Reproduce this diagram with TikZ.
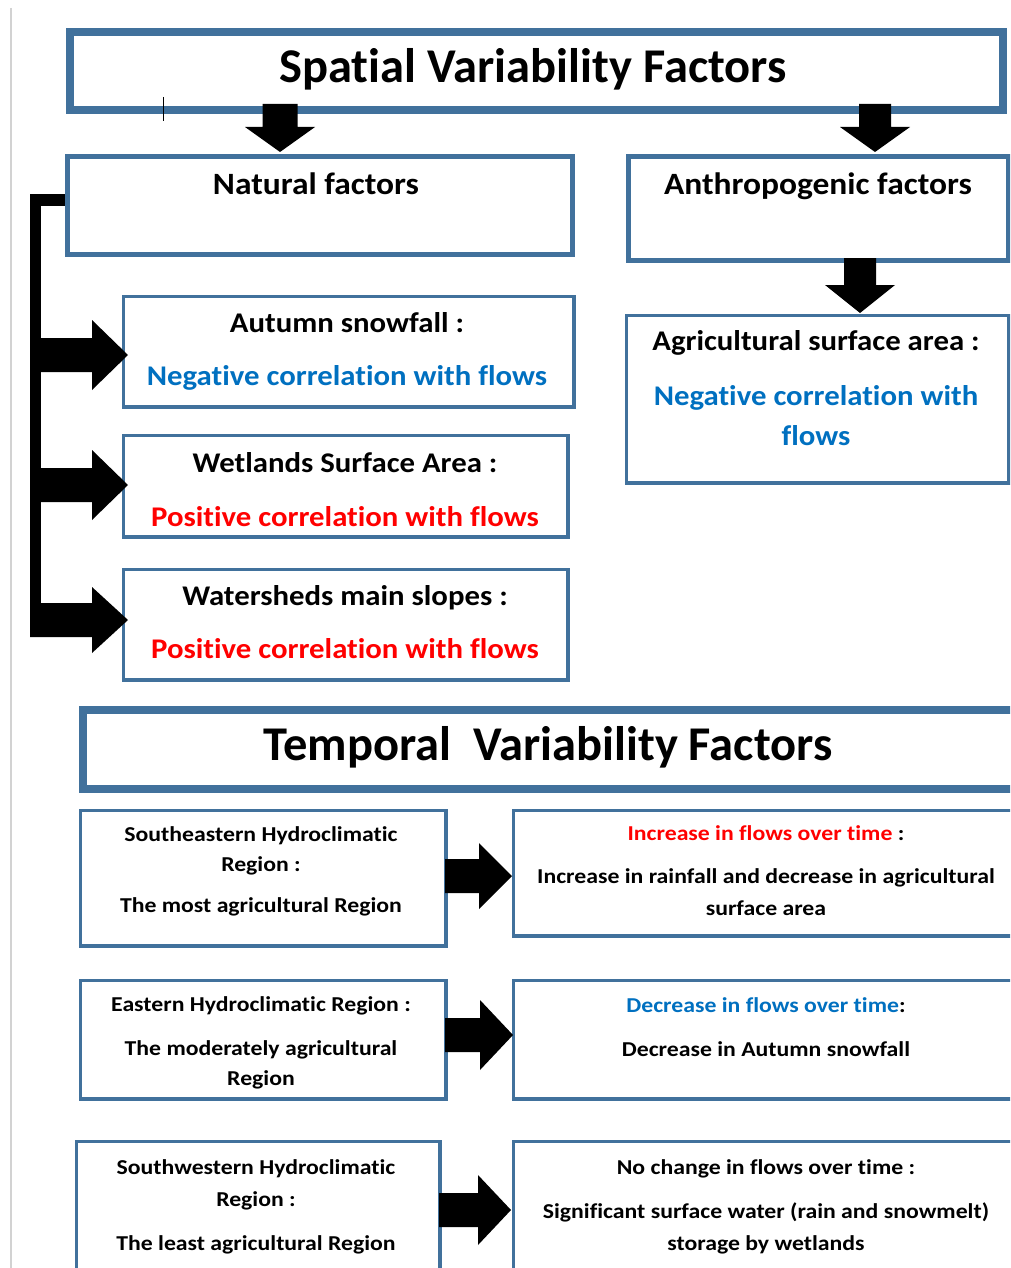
\documentclass[tikz,border=0pt]{standalone}
\usepackage{fontspec}
\setmainfont[Ligatures=NoCommon]{Carlito}
\newfontfamily\medfam[FakeStretch=1.08,Ligatures=NoCommon]{Carlito}
\newfontfamily\smlfam[FakeStretch=1.12,Ligatures=NoCommon]{Carlito}
\usetikzlibrary{calc}
\definecolor{bordc}{RGB}{65,113,156}
\definecolor{bluetx}{RGB}{0,112,192}
\definecolor{redtx}{RGB}{255,0,0}
\newcommand\blkright[5]{\fill[blk] ($(#1)+(0,-#3)$) -- ($(#2)+(-#5,-#3)$) -- ($(#2)+(-#5,-#4)$) -- (#2) -- ($(#2)+(-#5,#4)$) -- ($(#2)+(-#5,#3)$) -- ($(#1)+(0,#3)$) -- cycle;}
\newcommand\blkdown[5]{\fill[blk] ($(#1)+(-#3,0)$) -- ($(#2)+(-#3,-#5)$) -- ($(#2)+(-#4,-#5)$) -- (#2) -- ($(#2)+(#4,-#5)$) -- ($(#2)+(#3,-#5)$) -- ($(#1)+(#3,0)$) -- cycle;}
\begin{document}
\begin{tikzpicture}[x=1pt,y=-1pt,
  boxthick/.style={draw=bordc,line width=8pt,fill=white,inner sep=0pt,anchor=north west},
  boxmid/.style={draw=bordc,line width=5pt,fill=white,inner sep=0pt,anchor=north west},
  boxthin/.style={draw=bordc,line width=3.5pt,fill=white,inner sep=0pt,anchor=north west},
  txt/.style={inner sep=0pt,anchor=base},
  big/.style={txt,font=\bfseries\fontsize{48.5}{56}\selectfont},
  head/.style={txt,font=\medfam\bfseries\fontsize{31}{36}\selectfont},
  med/.style={txt,font=\medfam\bfseries\fontsize{28.5}{34}\selectfont},
  sml/.style={txt,font=\smlfam\bfseries\fontsize{21.2}{25}\selectfont},
  blk/.style={fill=black}]
\useasboundingbox (0,0) rectangle (1010,1268);
\clip (0,0) rectangle (1010,1268);
\fill[white] (0,0) rectangle (1010,1268);
% page edge
\draw[gray!35,line width=2pt] (11,8) -- (11,1268);
% Spatial title
\node[boxthick,minimum width=933pt,minimum height=78pt] (spat) at (66,28) {};
\node[big] (spatT) at (533,83) {Spatial Variability Factors};
\draw[black,line width=1pt] (163,97) -- (163,121);
% Natural / Anthropogenic
\node[boxmid,minimum width=505pt,minimum height=97pt] (nat) at (64.5,154.5) {};
\node[head] (natT) at (316,195) {Natural factors};
\node[boxmid,minimum width=380pt,minimum height=103pt] (ant) at (625.5,154.5) {};
\node[head] (antT) at (818,195) {Anthropogenic factors};
\coordinate (a1s) at (280,104);
\coordinate (a1t) at (280,152);
\blkdown{a1s}{a1t}{17.5}{35}{25}
\coordinate (a2s) at (875,104);
\coordinate (a2t) at (875,152);
\blkdown{a2s}{a2t}{16}{35}{25}
% natural sub-boxes
\node[boxthin,minimum width=450.5pt,minimum height=110.5pt] (aut) at (121.75,294.75) {};
\node[med] (autT1) at (347,332) {Autumn snowfall :};
\node[med,text=bluetx] (autT2) at (347,385) {Negative correlation with flows};
\node[boxthin,minimum width=444.5pt,minimum height=101.5pt] (wet) at (121.75,433.75) {};
\node[med] (wetT1) at (345,472) {Wetlands Surface Area :};
\node[med,text=redtx] (wetT2) at (345,526) {Positive correlation with flows};
\node[boxthin,minimum width=444.5pt,minimum height=110.5pt] (wat) at (121.75,567.75) {};
\node[med] (watT1) at (345,605) {Watersheds main slopes :};
\node[med,text=redtx] (watT2) at (345,658) {Positive correlation with flows};
% bracket
\coordinate (brT) at (35,200);
\coordinate (brB) at (35,635);
\draw[line width=11pt] (nat.west |- brT) -- (brT) -- (brB);
\coordinate (b1) at (35,355);
\coordinate (b1t) at (128,355);
\blkright{b1}{b1t}{17}{35}{36}
\coordinate (b2) at (35,485);
\coordinate (b2t) at (128,485);
\blkright{b2}{b2t}{17}{35}{36}
\coordinate (b3) at (30,620);
\coordinate (b3t) at (128,620);
\blkright{b3}{b3t}{17}{33}{36}
% anthropogenic sub-box
\node[boxthin,minimum width=382.5pt,minimum height=167.5pt] (agr) at (624.75,313.75) {};
\node[med] (agrT1) at (816,350) {Agricultural surface area :};
\node[med,text=bluetx] (agrT2) at (816,405) {Negative correlation with};
\node[med,text=bluetx] (agrT3) at (816,445) {flows};
\coordinate (a3s) at (860,258);
\coordinate (a3t) at (860,313);
\blkdown{a3s}{a3t}{16}{35}{28}
% Temporal title
\node[boxthick,minimum width=960pt,minimum height=79pt] (temp) at (79,706) {};
\node[big] (tempT) at (548,760) {Temporal\ \ Variability Factors};
% row 1
\node[boxthin,minimum width=365.5pt,minimum height=135.5pt] (r1l) at (78.75,808.75) {};
\node[sml] (r1lA) at (261,841) {Southeastern Hydroclimatic};
\node[sml] (r1lB) at (261,871) {Region :};
\node[sml] (r1lC) at (261,912) {The most agricultural Region};
\node[boxthin,minimum width=520pt,minimum height=125.5pt] (r1r) at (511.75,808.75) {};
\node[sml] (r1rA) at (766,840) {{\color{redtx}Increase in flows over time} :};
\node[sml] (r1rB) at (766,883) {Increase in rainfall and decrease in agricultural};
\node[sml] (r1rC) at (766,915) {surface area};
\coordinate (c1) at (445,876);
\coordinate (c1t) at (512,876);
\blkright{c1}{c1t}{17}{33}{33}
% row 2
\node[boxthin,minimum width=365.5pt,minimum height=118.5pt] (r2l) at (78.75,978.75) {};
\node[sml] (r2lA) at (261,1011) {Eastern Hydroclimatic Region :};
\node[sml] (r2lB) at (261,1055) {The moderately agricultural};
\node[sml] (r2lC) at (261,1085) {Region};
\node[boxthin,minimum width=520pt,minimum height=118.5pt] (r2r) at (511.75,978.75) {};
\node[sml] (r2rA) at (766,1012) {{\color{bluetx}Decrease in flows over time}:};
\node[sml] (r2rB) at (766,1056) {Decrease in Autumn snowfall};
\coordinate (c2) at (445,1035);
\coordinate (c2t) at (513,1035);
\blkright{c2}{c2t}{17}{35}{33}
% row 3
\node[boxthin,minimum width=363.5pt,minimum height=160pt] (r3l) at (74.75,1139.75) {};
\node[sml] (r3lA) at (256,1174) {Southwestern Hydroclimatic};
\node[sml] (r3lB) at (256,1206) {Region :};
\node[sml] (r3lC) at (256,1250) {The least agricultural Region};
\node[boxthin,minimum width=520pt,minimum height=160pt] (r3r) at (511.75,1139.75) {};
\node[sml] (r3rA) at (766,1174) {No change in flows over time :};
\node[sml] (r3rB) at (766,1218) {Significant surface water (rain and snowmelt)};
\node[sml] (r3rC) at (766,1250) {storage by wetlands};
\coordinate (c3) at (439,1210);
\coordinate (c3t) at (511,1210);
\blkright{c3}{c3t}{17}{35}{33}
\end{tikzpicture}
\end{document}
